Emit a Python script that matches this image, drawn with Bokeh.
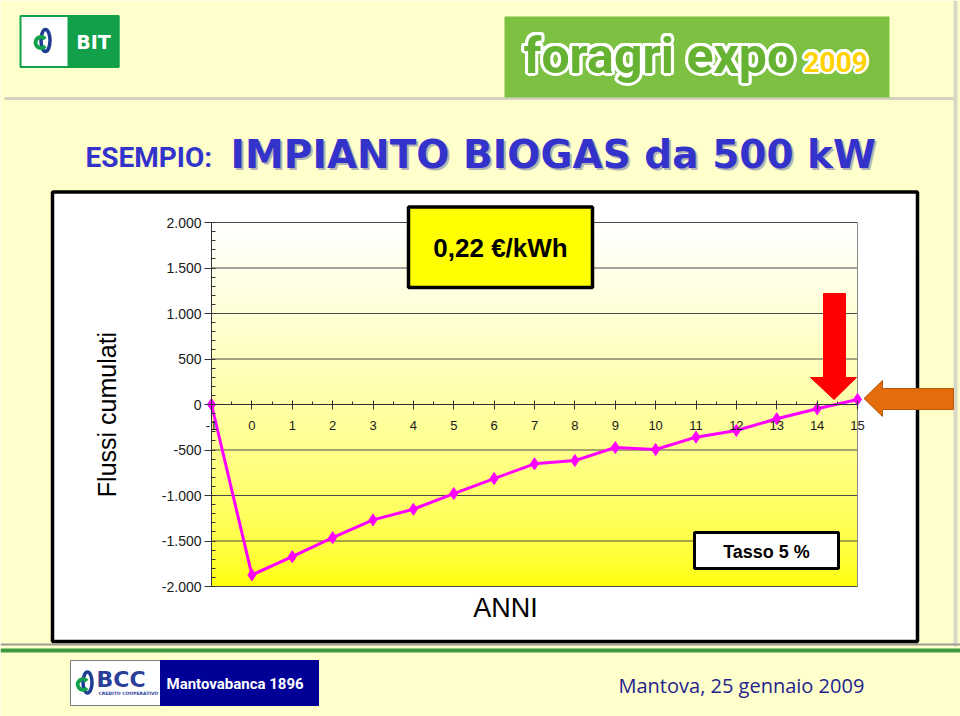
import numpy as np
from bokeh.plotting import figure
from bokeh.models import Range1d, LinearAxis, FixedTicker, ColumnDataSource
from bokeh.core.properties import value
from bokeh.embed import file_html
from bokeh.resources import INLINE

# ---------------- data ----------------
years = [-1, 0, 1, 2, 3, 4, 5, 6, 7, 8, 9, 10, 11, 12, 13, 14, 15]
cumulative_flows = [0, -1873, -1672, -1463, -1268, -1151, -979, -814, -652,
                    -616, -473, -495, -359, -286, -157, -47, 55]
y_ticks = [-2000, -1500, -1000, -500, 0, 500, 1000, 1500, 2000]
y_tick_labels = ["-2.000", "-1.500", "-1.000", "-500", "0", "500", "1.000", "1.500", "2.000"]
x_tick_labels = ["-1", "0", "1", "2", "3", "4", "5", "6", "7", "8", "9", "10",
                 "11", "12", "13", "14", "15"]

title_small = "ESEMPIO:"
title_big = "IMPIANTO BIOGAS da 500 kW"
y_label = "Flussi cumulati"
x_label = "ANNI"
price_note = "0,22 €/kWh"
rate_note = "Tasso 5 %"
footer_date = "Mantova, 25 gennaio 2009"

# ---------------- layout (pixels) ----------------
W, H = 960, 716
PL, PR, PT, PB = 211, 857, 222, 586          # plot area
BG = "#FFFFCC"
BLUE = "#3333CC"

x_lo, x_hi = years[0], years[-1]
y_lo, y_hi = y_ticks[0], y_ticks[-1]
kx = (PR - PL) / (x_hi - x_lo)
ky = (PB - PT) / (y_hi - y_lo)
cx_range = Range1d(x_lo - PL / kx, x_hi + (W - PR) / kx)
cy_range = Range1d(y_lo - (H - PB) / ky, y_hi + PT / ky)

p = figure(width=W, height=H, x_range=Range1d(0, W), y_range=Range1d(H, 0),
           title=None, toolbar_location=None, output_backend="svg",
           x_axis_type=None, y_axis_type=None, min_border=0,
           outline_line_color=None, background_fill_color=BG, border_fill_color=BG)
p.extra_x_ranges = {"cx": cx_range}
p.extra_y_ranges = {"cy": cy_range}
C = dict(x_range_name="cx", y_range_name="cy")


def txt(x, y, s, size, font="Liberation Sans", style="normal", color="black",
        align="left", angle=0.0):
    p.text(x=[x], y=[y], text=[s], text_font=value(font), text_font_size=f"{size}px",
           text_font_style=style, text_color=color, text_align=align,
           text_baseline="middle", angle=angle)


def outlined(x, y, s, size, font, fill, outline="white", r=3.0, style="bold"):
    for a in np.linspace(0, 2 * np.pi, 16, endpoint=False):
        txt(x + r * np.cos(a), y + r * np.sin(a), s, size, font, style, outline)
    txt(x, y, s, size, font, style, fill)


# ---------------- slide frame decorations ----------------
p.segment(x0=[4], y0=[98], x1=[956], y1=[98], line_color="#D2D2BE", line_width=3)
p.segment(x0=[955], y0=[0], x1=[955], y1=[646], line_color="#D8D8C6", line_width=4)
p.segment(x0=[0], y0=[644], x1=[W], y1=[644], line_color="#9C9C94", line_width=2)
p.segment(x0=[0], y0=[650], x1=[W], y1=[650], line_color="#3F9A3F", line_width=4)

# BIT logo
p.quad(left=[20], right=[118], top=[15.5], bottom=[66.5], fill_color="white",
       line_color="#12A04A", line_width=2)
p.quad(left=[68], right=[118], top=[15.5], bottom=[66.5], fill_color="#12A04A",
       line_color="#12A04A", line_width=2)
p.ellipse(x=[45], y=[40], width=[9], height=[22], fill_color=None,
          line_color="#1F3E93", line_width=3.5)
p.annular_wedge(x=[40.5], y=[42], inner_radius=3.5, outer_radius=7.5,
                start_angle=0.7, end_angle=2 * np.pi - 0.7, fill_color="#12A04A",
                line_color=None)
txt(93, 41, "BIT", 19, "DejaVu Sans", "bold", "white", "center")

# foragri expo logo
p.quad(left=[504], right=[889], top=[16], bottom=[97], fill_color="#7DC142", line_color=None)
outlined(523, 55, "foragri expo", 50, "Roboto", "#66B232", r=3.0)
outlined(803, 61, "2009", 28, "Roboto", "#FFD200", r=2.5)

# titles
txt(232, 155.5, title_big, 39, "DejaVu Sans", "bold", "#B4B4B4")
txt(230, 153.5, title_big, 39, "DejaVu Sans", "bold", BLUE)
txt(85, 157, title_small, 28, "Roboto", "bold", BLUE)

# chart box
p.quad(left=[52], right=[917], top=[191.5], bottom=[641], fill_color="white",
       line_color="black", line_width=3.5)

# y label (rotated)
txt(106, 414, y_label, 25, "Liberation Sans", "normal", "black", "center", np.pi / 2)

# plot area gradient (white at top -> yellow at bottom)
n = 90
edges = np.linspace(y_lo, y_hi, n + 1)
mid = (edges[:-1] + edges[1:]) / 2
frac = (mid - y_lo) / (y_hi - y_lo)
cols = ["#FFFF%02X" % int(round(255 * f ** 0.62)) for f in frac]
p.quad(left=x_lo, right=x_hi, bottom=edges[:-1], top=edges[1:], fill_color=cols,
       line_color=cols, line_width=1, **C)

# grid lines
p.segment(x0=[x_lo] * len(y_ticks), x1=[x_hi] * len(y_ticks), y0=y_ticks, y1=y_ticks,
          line_color="#4A4A4A", line_width=1, **C)
p.segment(x0=[x_hi], x1=[x_hi], y0=[y_lo], y1=[y_hi], line_color="#8A8A8A", line_width=1, **C)

# axes through the chart scales
yaxis = LinearAxis(fixed_location=x_lo, bounds=(y_lo, y_hi),
                   ticker=FixedTicker(ticks=y_ticks, minor_ticks=list(range(y_lo, y_hi + 1, 100))),
                   major_label_overrides={t: l for t, l in zip(y_ticks, y_tick_labels)},
                   major_tick_out=7, major_tick_in=0, minor_tick_in=4, minor_tick_out=0,
                   major_label_standoff=3, axis_line_color="#333333",
                   major_tick_line_color="#333333", minor_tick_line_color="#333333",
                   major_label_text_font="Liberation Sans", major_label_text_font_size="14px",
                   major_label_text_color="#1A1A1A", **C)
p.add_layout(yaxis, "left")

xaxis = LinearAxis(fixed_location=0, bounds=(x_lo, x_hi),
                   ticker=FixedTicker(ticks=years, minor_ticks=[v + 0.5 for v in years[:-1]]),
                   major_label_overrides={t: l for t, l in zip(years, x_tick_labels)},
                   major_tick_out=5, major_tick_in=4, minor_tick_in=3, minor_tick_out=0,
                   major_label_standoff=11, axis_line_color="#333333",
                   major_tick_line_color="#333333", minor_tick_line_color="#333333",
                   major_label_text_font="Liberation Sans", major_label_text_font_size="13px",
                   major_label_text_color="#1A1A1A", **C)
p.add_layout(xaxis, "below")

# data series
src = ColumnDataSource(dict(year=years, flow=cumulative_flows))
p.line("year", "flow", source=src, line_color="#FF00FF", line_width=3, **C)
p.scatter("year", "flow", source=src, marker="diamond", size=12, fill_color="#FF00FF",
          line_color="#FF00FF", **C)

# annotation boxes
p.quad(left=[408], right=[592], top=[206.5], bottom=[287], fill_color="#FFFF00",
       line_color="black", line_width=3.5)
txt(500, 247, price_note, 26, "Liberation Sans", "bold", "black", "center")
p.quad(left=[694], right=[838], top=[532], bottom=[568], fill_color="white",
       line_color="black", line_width=3)
txt(766, 551, rate_note, 18, "Liberation Sans", "bold", "black", "center")
txt(505, 607, x_label, 27, "Liberation Sans", "normal", "black", "center")

# arrows
p.patch(x=[823, 845, 845, 856, 833.5, 810, 823], y=[293, 293, 377, 377, 399, 377, 377],
        fill_color="#FF0000", line_color="#FF0000", line_width=1)
p.patch(x=[863.5, 882, 882, 953, 953, 882, 882], y=[398, 380, 388, 388, 409, 409, 416],
        fill_color="#E46C0A", line_color="#B85808", line_width=1)

# footer: BCC logo
p.quad(left=[70], right=[318], top=[660], bottom=[705], fill_color="white",
       line_color="#7A7A7A", line_width=1)
p.quad(left=[160], right=[318], top=[660], bottom=[705], fill_color="#000096",
       line_color="#000096", line_width=1)
p.ellipse(x=[87], y=[682], width=[9], height=[21], fill_color=None,
          line_color="#1F3E93", line_width=3.5)
p.annular_wedge(x=[82.5], y=[684], inner_radius=3.3, outer_radius=7.2,
                start_angle=0.7, end_angle=2 * np.pi - 0.7, fill_color="#12A04A",
                line_color=None)
txt(96, 679, "BCC", 22, "DejaVu Sans", "bold", "#2B3E98")
txt(98, 693, "CREDITO COOPERATIVO", 4.5, "DejaVu Sans", "bold", "#2B3E98")
txt(166, 683, "Mantovabanca 1896", 15, "Roboto", "bold", "white")

txt(618, 685, footer_date, 20, "Open Sans", "normal", "#23238E")

open("out.html", "w").write(file_html(p, INLINE))
